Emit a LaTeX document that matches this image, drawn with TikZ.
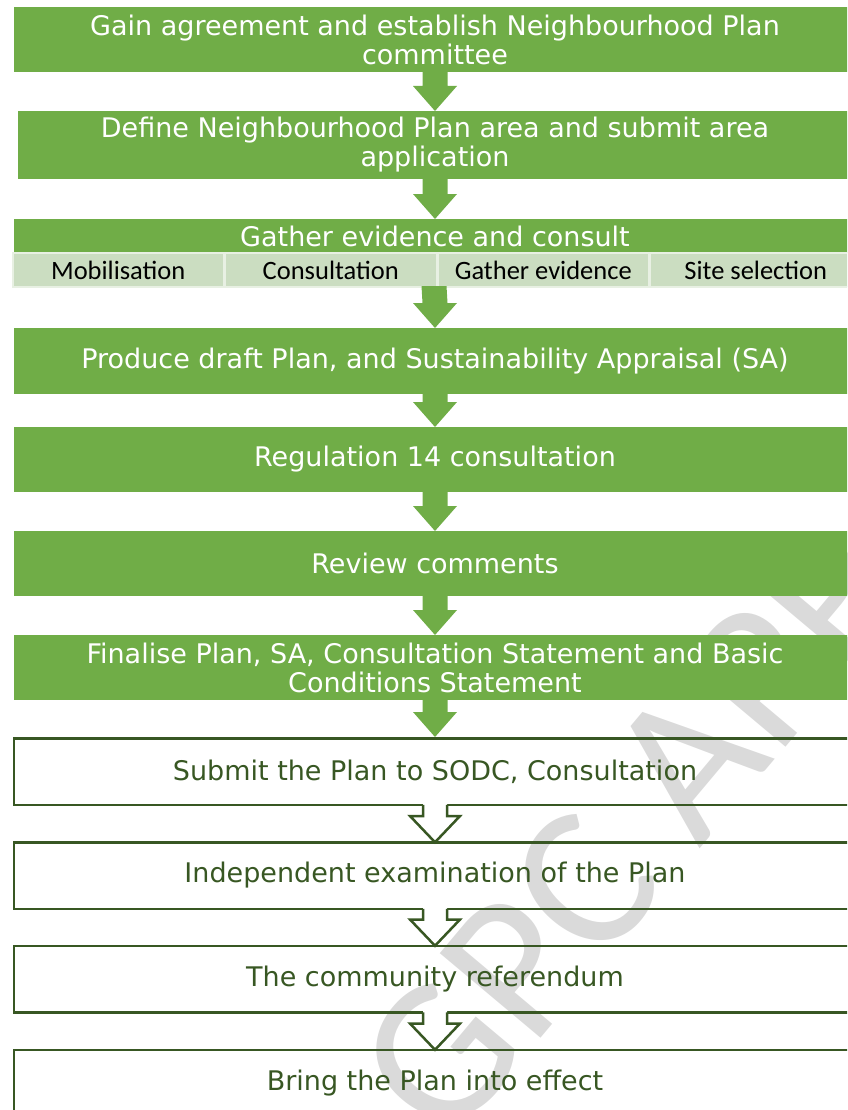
\documentclass[tikz,border=0pt]{standalone}
\usepackage{fontspec}
\setmainfont{DejaVu Sans}
\newfontfamily\calibri{Carlito}
\usetikzlibrary{calc,positioning}
\definecolor{stepgreen}{HTML}{70AD47}
\definecolor{cellgreen}{HTML}{CBDDC1}
\definecolor{darkgreen}{HTML}{385723}
\definecolor{markgray}{HTML}{DADADA}

\newcommand{\solidarrow}[2]{%
	\fill[stepgreen] ($(#1.south)+(-12.5,-1)$) -- ($(#2.north)+(-12.5,-25)$) -- ($(#2.north)+(-22,-25)$) -- (#2.north)
		-- ($(#2.north)+(22,-25)$) -- ($(#2.north)+(12.5,-25)$) -- ($(#1.south)+(12.5,-1)$) -- cycle;}
\newcommand{\openarrow}[2]{%
	\fill[white] ($(#1.south)+(-12,-3)$) -- ($(#2.north)+(-12,-25)$) -- ($(#2.north)+(-25,-25)$) -- ($(#2.north)+(0,1)$)
		-- ($(#2.north)+(25,-25)$) -- ($(#2.north)+(12,-25)$) -- ($(#1.south)+(12,-3)$) -- cycle;
	\draw[outline] ($(#1.south)+(-12,-1.25)$) -- ($(#2.north)+(-12,-25)$) -- ($(#2.north)+(-25,-25)$) -- ($(#2.north)+(0,1.25)$)
		-- ($(#2.north)+(25,-25)$) -- ($(#2.north)+(12,-25)$) -- ($(#1.south)+(12,-1.25)$);}

\begin{document}
\begin{tikzpicture}[x=1pt,y=-1pt,
		stepfont/.style={font=\fontsize{27}{29}\selectfont},
		greenbox/.style={stepfont, fill=stepgreen, text=white, minimum width=842pt, minimum height=65pt, inner sep=0pt, outer sep=0pt, align=center},
		whitebox/.style={stepfont, draw=darkgreen, line width=2.5pt, text=darkgreen, minimum width=842pt, minimum height=66.5pt, inner sep=0pt, align=center},
		subcell/.style={fill=cellgreen, draw=white!55!cellgreen, line width=1.5pt, minimum width=211pt, minimum height=34pt, inner sep=0pt, font=\calibri\fontsize{26.5}{29}\selectfont},
		outline/.style={draw=darkgreen, line width=2.5pt, line join=miter}]

	\useasboundingbox (0,0) rectangle (847,1110);
	\clip (0,0) rectangle (847,1110);

	\node[rotate=50, text=markgray, font=\calibri\fontsize{205}{205}\selectfont] (watermark) at (630,830) {GPC APP};

	\node[greenbox] (agree) at (435,39.5) {Gain agreement and establish Neighbourhood Plan\\committee};
	\node[greenbox, minimum width=834pt, minimum height=68pt] (area) at (435,145) {Define Neighbourhood Plan area and submit area\\application};
	\node[greenbox, minimum height=34pt] (gather) at (435,236) {Gather evidence and consult};
	\node[minimum width=844pt, minimum height=34pt, inner sep=0pt, outer sep=0pt] (subrow) at (434,270) {};
	\node[subcell, anchor=west] (mobil) at (subrow.west) {Mobilisation};
	\node[subcell, right=0pt of mobil] (consult) {Consultation};
	\node[subcell, right=0pt of consult] (evidence) {Gather evidence};
	\node[subcell, right=0pt of evidence] (site) {Site selection};
	\node[greenbox, minimum height=66pt] (draft) at (435,361) {Produce draft Plan, and Sustainability Appraisal (SA)};
	\node[greenbox] (reg14) at (435,459.5) {Regulation 14 consultation};
	\node[greenbox] (review) at (435,563.5) {Review comments};
	\node[greenbox] (finalise) at (435,667.5) {Finalise Plan, SA, Consultation Statement and Basic\\Conditions Statement};

	\node[whitebox] (submit) at (435,771.5) {Submit the Plan to SODC, Consultation};
	\node[whitebox] (exam) at (435,875.5) {Independent examination of the Plan};
	\node[whitebox] (referendum) at (435,979) {The community referendum};
	\node[whitebox] (effect) at (435,1083) {Bring the Plan into effect};

	\solidarrow{agree}{area}
	\solidarrow{area}{gather}
	\solidarrow{subrow}{draft}
	\solidarrow{draft}{reg14}
	\solidarrow{reg14}{review}
	\solidarrow{review}{finalise}
	\solidarrow{finalise}{submit}
	\openarrow{submit}{exam}
	\openarrow{exam}{referendum}
	\openarrow{referendum}{effect}
\end{tikzpicture}
\end{document}
